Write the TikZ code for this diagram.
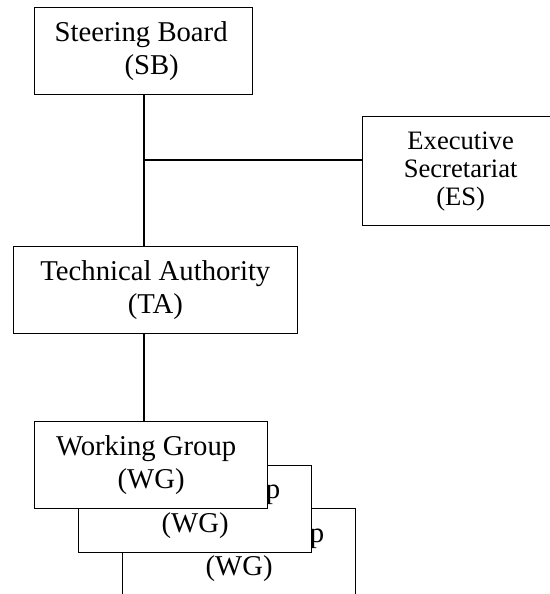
\documentclass[tikz,border=0pt]{standalone}
\usepackage{fontspec}
\setmainfont{Liberation Serif}
\tikzset{
  orgbox/.style={draw, fill=white, line width=1.3pt, rectangle, inner sep=0pt,
    align=center, anchor=north west, font=\fontsize{28.7}{33.5}\selectfont},
  esbox/.style={orgbox, font=\fontsize{26.6}{28}\selectfont},
  link/.style={line width=1.3pt}
}
\begin{document}
\begin{tikzpicture}[x=1pt, y=-1pt]
\useasboundingbox (0,0) rectangle (549,594);
\node[orgbox, minimum width=218pt, minimum height=87pt] (sb) at (34,7)
  {Steering Board\hspace*{5pt}\\\hspace*{16pt}(SB)};
\node[esbox, minimum width=196pt, minimum height=109pt] (es) at (362,116)
  {Executive\\Secretariat\\(ES)};
\node[orgbox, minimum width=284pt, minimum height=87pt] (ta) at (12.7,246)
  {Technical Authority\\(TA)};
\node[orgbox, minimum width=233pt, minimum height=87pt] (wg3) at (122,508)
  {Working Group\hspace*{10pt}\\(WG)};
\node[orgbox, minimum width=233pt, minimum height=87pt] (wg2) at (78,464.5)
  {Working Group\hspace*{10pt}\\(WG)};
\node[orgbox, minimum width=233pt, minimum height=87pt] (wg1) at (34,421)
  {Working Group\hspace*{10pt}\\(WG)};
\coordinate (j) at (144,160);
\draw[link] (sb.south -| j) -- (ta.north -| j);
\draw[link] (j) -- (j -| es.west);
\draw[link] (ta.south -| j) -- (wg1.north -| j);
\end{tikzpicture}
\end{document}
